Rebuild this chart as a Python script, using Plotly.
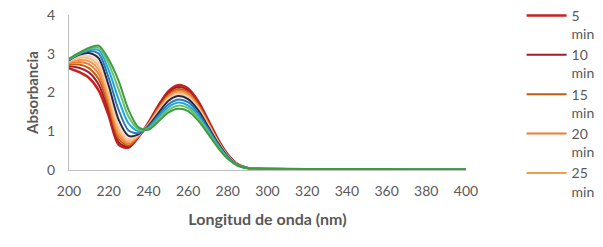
import plotly.graph_objects as go

wavelength = [200, 205, 210, 215, 220, 225, 230, 235, 240, 245, 250, 255, 260,
              265, 270, 275, 280, 285, 290, 295, 300, 320, 340, 360, 380, 400]

series_names = ["5<br>min", "10<br>min", "15<br>min", "20<br>min", "25<br>min", "30<br>min",
                "35<br>min", "40<br>min", "45<br>min", "50<br>min", "55<br>min", "60<br>min"]

abs_5 = [2.63, 2.53, 2.38, 2.05, 1.40, 0.65, 0.58, 0.85, 1.22, 1.66, 2.03, 2.19, 2.10, 1.78, 1.30, 0.80, 0.40, 0.15, 0.05, 0.030, 0.025, 0.020, 0.018, 0.015, 0.014, 0.012]
abs_10 = [2.68, 2.64, 2.52, 2.20, 1.52, 0.72, 0.60, 0.86, 1.21, 1.63, 1.99, 2.14, 2.05, 1.74, 1.27, 0.78, 0.39, 0.15, 0.05, 0.030, 0.025, 0.020, 0.018, 0.015, 0.014, 0.012]
abs_15 = [2.72, 2.72, 2.63, 2.34, 1.63, 0.80, 0.63, 0.87, 1.19, 1.59, 1.94, 2.09, 2.01, 1.70, 1.24, 0.76, 0.38, 0.14, 0.05, 0.031, 0.026, 0.021, 0.019, 0.016, 0.015, 0.013]
abs_20 = [2.75, 2.79, 2.73, 2.47, 1.74, 0.88, 0.67, 0.88, 1.18, 1.57, 1.90, 2.05, 1.97, 1.67, 1.22, 0.75, 0.37, 0.14, 0.05, 0.031, 0.026, 0.021, 0.019, 0.016, 0.015, 0.013]
abs_25 = [2.78, 2.84, 2.81, 2.58, 1.84, 0.96, 0.71, 0.89, 1.17, 1.54, 1.87, 2.01, 1.93, 1.63, 1.19, 0.73, 0.37, 0.14, 0.05, 0.032, 0.027, 0.022, 0.020, 0.017, 0.016, 0.014]
abs_30 = [2.80, 2.89, 2.88, 2.68, 1.94, 1.05, 0.75, 0.90, 1.16, 1.52, 1.84, 1.98, 1.90, 1.61, 1.18, 0.73, 0.36, 0.14, 0.05, 0.032, 0.027, 0.022, 0.020, 0.017, 0.016, 0.014]
abs_35 = [2.82, 2.93, 2.94, 2.77, 2.05, 1.15, 0.80, 0.91, 1.15, 1.50, 1.82, 1.95, 1.87, 1.59, 1.16, 0.71, 0.36, 0.13, 0.05, 0.033, 0.028, 0.023, 0.021, 0.018, 0.017, 0.015]
abs_40 = [2.83, 2.97, 3.02, 2.88, 2.18, 1.30, 0.88, 0.92, 1.14, 1.47, 1.78, 1.91, 1.83, 1.55, 1.13, 0.70, 0.35, 0.13, 0.05, 0.034, 0.029, 0.024, 0.022, 0.019, 0.018, 0.016]
abs_45 = [2.84, 2.99, 3.07, 3.00, 2.38, 1.55, 1.02, 0.95, 1.11, 1.41, 1.69, 1.82, 1.75, 1.48, 1.08, 0.67, 0.33, 0.13, 0.05, 0.035, 0.030, 0.025, 0.023, 0.020, 0.019, 0.017]
abs_50 = [2.85, 3.00, 3.10, 3.09, 2.58, 1.82, 1.20, 1.00, 1.09, 1.36, 1.62, 1.74, 1.67, 1.41, 1.03, 0.64, 0.32, 0.12, 0.045, 0.036, 0.031, 0.026, 0.024, 0.021, 0.020, 0.018]
abs_55 = [2.86, 3.01, 3.13, 3.16, 2.74, 2.08, 1.38, 1.05, 1.06, 1.30, 1.55, 1.66, 1.60, 1.35, 0.99, 0.61, 0.30, 0.12, 0.045, 0.037, 0.032, 0.027, 0.025, 0.022, 0.021, 0.019]
abs_60 = [2.87, 3.02, 3.15, 3.21, 2.85, 2.30, 1.55, 1.10, 1.04, 1.25, 1.48, 1.58, 1.52, 1.28, 0.94, 0.58, 0.29, 0.11, 0.045, 0.038, 0.033, 0.028, 0.026, 0.023, 0.022, 0.020]

all_series = [abs_5, abs_10, abs_15, abs_20, abs_25, abs_30,
              abs_35, abs_40, abs_45, abs_50, abs_55, abs_60]

colors = ["#C9211E", "#A01D2E", "#C55A11", "#ED7D31", "#F39A4B", "#F7B98B",
          "#F9CFAE", "#1F2B45", "#2E75B6", "#1BA8E6", "#6CC06A", "#3E9B3E"]

x_ticks = [200, 220, 240, 260, 280, 300, 320, 340, 360, 380, 400]
y_ticks = [0, 1, 2, 3, 4]

FONT = "Lato"
GREY = "#595959"

fig = go.Figure()
for i, (name, vals, col) in enumerate(zip(series_names, all_series, colors)):
    fig.add_trace(go.Scatter(
        x=wavelength, y=vals, name=name, mode="lines",
        line=dict(color=col, width=2.5 if i == 0 else 2, shape="spline", smoothing=0.8),
        showlegend=i < 5,
    ))

fig.update_layout(
    width=603, height=247,
    margin=dict(l=69, r=137, t=15, b=77, autoexpand=False),
    paper_bgcolor="white", plot_bgcolor="white",
    font=dict(family=FONT, size=14, color=GREY),
    legend=dict(
        x=1.14, y=1.098, xanchor="left", yanchor="top",
        font=dict(family=FONT, size=14, color=GREY),
        valign="top", tracegroupgap=0, itemwidth=40, maxheight=240,
        bgcolor="rgba(0,0,0,0)",
    ),
    xaxis=dict(
        range=[200, 400], tickvals=x_ticks, showgrid=False, zeroline=False,
        showline=True, linecolor="#BFBFBF", linewidth=1, ticks="",
        ticklabelstandoff=8,
        title=dict(text="<b>Longitud de onda (nm)</b>", standoff=16,
                   font=dict(family=FONT, size=16, color=GREY)),
    ),
    yaxis=dict(
        range=[0, 4], tickvals=y_ticks, showgrid=False, zeroline=False,
        showline=True, linecolor="#BFBFBF", linewidth=1, ticks="",
        ticklabelstandoff=10,
        title=dict(text="<b>Absorbancia</b>", standoff=4,
                   font=dict(family=FONT, size=15, color=GREY)),
    ),
)

fig.write_html("out.html", config={"displayModeBar": False},
               post_script="document.body.style.margin='0';")
